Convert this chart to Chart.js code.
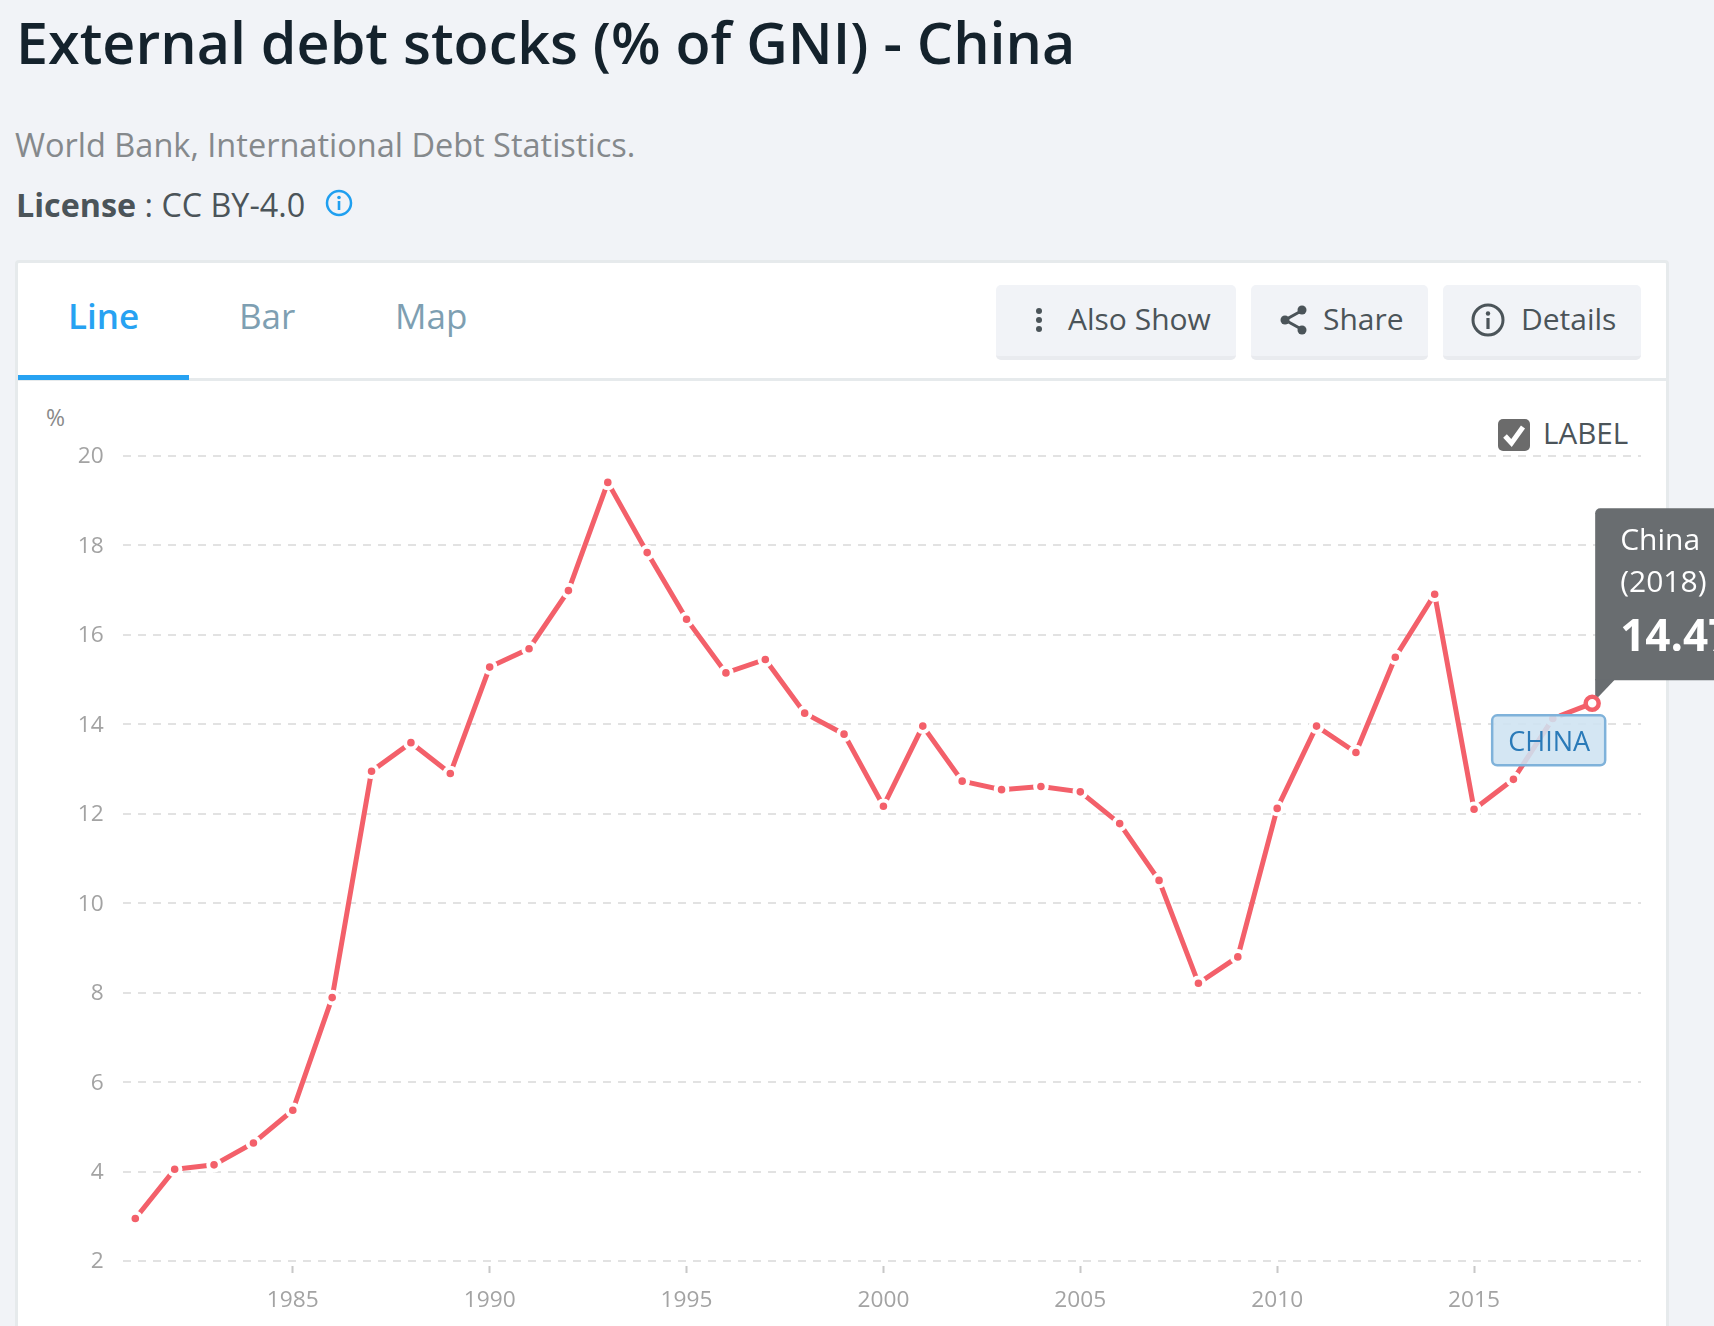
<!DOCTYPE html>
<html>
<head>
<meta charset="utf-8">
<title>External debt stocks (% of GNI) - China</title>
<script src="https://cdn.jsdelivr.net/npm/chart.js@4"></script>
<style>
  html, body { margin: 0; padding: 0; }
  body { width: 1714px; height: 1326px; overflow: hidden; position: relative; background: #f1f3f7; font-family: "Open Sans", sans-serif; }
  .abs { position: absolute; white-space: nowrap; }
  #title { left: 16px; top: 4px; font-size: 57.4px; line-height: 76px; font-weight: 600; color: #14222c; }
  #source { left: 15px; top: 122px; font-size: 32.5px; line-height: 46px; color: #85898c; }
  #license { left: 16px; top: 181px; font-size: 32.3px; line-height: 46px; color: #4b5459; }
  #license b { font-weight: 700; }
  #license-icon { left: 325px; top: 189px; }
  #card { left: 15px; top: 260px; width: 1648px; height: 1080px; background: #fff; border: 3px solid #e6eaec; border-radius: 4px; }
  #divider { left: 18px; top: 378px; width: 1648px; height: 3px; background: #e6eaec; }
  #tab-line { left: 18px; top: 375px; width: 171px; height: 5px; background: #27a2f2; }
  .tab { top: 292px; font-size: 35px; line-height: 48px; color: #7e9fb2; }
  .btn { top: 285px; height: 71px; background: #f1f3f7; border-bottom: 4px solid #e9ebef; border-radius: 5px; }
  .btn span { position: absolute; top: 13px; font-size: 30px; line-height: 42px; color: #4b5459; white-space: nowrap; }
  .btn svg { position: absolute; }
  #pct { left: 46px; top: 402px; font-size: 23px; line-height: 30px; color: #8a8a8a; }
  #check { left: 1498px; top: 419px; width: 32px; height: 32px; background: #6b6b6b; border-radius: 5px; }
  #label-text { left: 1543px; top: 413px; font-size: 29.6px; line-height: 40px; color: #4b5459; }
  #chart { position: absolute; left: 0; top: 0; }
</style>
</head>
<body>
<div class="abs" id="title">External debt stocks (% of GNI) - China</div>
<div class="abs" id="source">World Bank, International Debt Statistics.</div>
<div class="abs" id="license"><b>License</b> : CC BY-4.0</div>
<svg class="abs" id="license-icon" width="28" height="28" viewBox="0 0 28 28">
  <circle cx="14" cy="14" r="12" fill="none" stroke="#1f9ff0" stroke-width="2.5"/>
  <circle cx="14" cy="8.5" r="1.8" fill="#1f9ff0"/>
  <rect x="12.7" y="12" width="2.6" height="9" fill="#1f9ff0"/>
</svg>

<div class="abs" id="card"></div>
<div class="abs" id="divider"></div>
<div class="abs" id="tab-line"></div>
<div class="abs tab" style="left:68px;color:#27a2f2;font-weight:600">Line</div>
<div class="abs tab" style="left:239px">Bar</div>
<div class="abs tab" style="left:395px">Map</div>

<div class="abs btn" style="left:996px;width:240px">
  <svg style="left:39px;top:22px" width="8" height="26" viewBox="0 0 8 26">
    <circle cx="4" cy="4" r="3" fill="#4b5459"/><circle cx="4" cy="13" r="3" fill="#4b5459"/><circle cx="4" cy="22" r="3" fill="#4b5459"/>
  </svg>
  <span style="left:72px">Also Show</span>
</div>
<div class="abs btn" style="left:1251px;width:177px">
  <svg style="left:28px;top:20px" width="30" height="30" viewBox="0 0 30 30">
    <path d="M24 5 L6 15 L24 25" fill="none" stroke="#4b5459" stroke-width="3"/>
    <circle cx="23" cy="5" r="4.5" fill="#4b5459"/><circle cx="6" cy="15" r="4.5" fill="#4b5459"/><circle cx="23" cy="25" r="4.5" fill="#4b5459"/>
  </svg>
  <span style="left:72px">Share</span>
</div>
<div class="abs btn" style="left:1443px;width:198px">
  <svg style="left:28px;top:18px" width="34" height="34" viewBox="0 0 34 34">
    <circle cx="17" cy="17" r="15" fill="none" stroke="#4b5459" stroke-width="3"/>
    <circle cx="17" cy="10.5" r="2.2" fill="#4b5459"/>
    <rect x="15.4" y="15" width="3.2" height="11" fill="#4b5459"/>
  </svg>
  <span style="left:78px">Details</span>
</div>

<div class="abs" id="pct">%</div>
<div class="abs" id="check">
  <svg width="32" height="32" viewBox="0 0 32 32"><path d="M7 17 L13.5 24 L25 8" fill="none" stroke="#fff" stroke-width="5"/></svg>
</div>
<div class="abs" id="label-text">LABEL</div>

<canvas id="chart" width="1714" height="1326"></canvas>

<script>
var years = [1981, 1982, 1983, 1984, 1985, 1986, 1987, 1988, 1989, 1990,
  1991, 1992, 1993, 1994, 1995, 1996, 1997, 1998, 1999, 2000,
  2001, 2002, 2003, 2004, 2005, 2006, 2007, 2008, 2009, 2010,
  2011, 2012, 2013, 2014, 2015, 2016, 2017, 2018];
var debt_values = [2.95, 4.05, 4.15, 4.64, 5.37, 7.89, 12.95, 13.59, 12.9, 15.28,
  15.69, 16.99, 19.41, 17.84, 16.35, 15.15, 15.45, 14.25, 13.78, 12.17,
  13.96, 12.73, 12.54, 12.61, 12.49, 11.78, 10.51, 8.21, 8.8, 12.12,
  13.96, 13.37, 15.5, 16.91, 12.1, 12.77, 14.13, 14.47];
var x_ticks = [1985, 1990, 1995, 2000, 2005, 2010, 2015];
var series_name = 'China';
var tooltip_year = '(2018)';
var tooltip_value = '14.47';

var RED = '#f3606a';
var last_idx = years.length - 1;

function roundRect(ctx, x, y, w, h, r) {
  ctx.beginPath();
  ctx.roundRect(x, y, w, h, r);
}

//  Dark box above the last point, under the line
var tooltipBox = {
  id: 'tooltipBox',
  beforeDatasetsDraw: function(chart) {
    var ctx = chart.ctx,
        px  = chart.scales.x.getPixelForValue(years[last_idx]),
        py  = chart.scales.y.getPixelForValue(debt_values[last_idx]),
        left = px + 3,
        bottom = py - 23;

    ctx.save();
    ctx.fillStyle = '#696d70';
    roundRect(ctx, left, bottom - 172, 200, 172, [5, 0, 0, 0]);
    ctx.fill();
    ctx.beginPath();
    ctx.moveTo(left, bottom - 1);
    ctx.lineTo(left + 20, bottom - 1);
    ctx.lineTo(left, bottom + 20);
    ctx.closePath();
    ctx.fill();

    ctx.fillStyle = '#fff';
    ctx.textAlign = 'left';
    ctx.textBaseline = 'alphabetic';
    ctx.font = '30px "Open Sans"';
    ctx.fillText(series_name, left + 25, bottom - 130);
    ctx.fillText(tooltip_year, left + 25, bottom - 88);
    ctx.font = 'bold 44px "Open Sans"';
    ctx.fillText(tooltip_value, left + 25, bottom - 29);
    ctx.restore();
  }
};

//  Series label, sits on top of the line
var seriesLabel = {
  id: 'seriesLabel',
  afterDatasetsDraw: function(chart) {
    var ctx = chart.ctx,
        px  = chart.scales.x.getPixelForValue(years[last_idx]),
        py  = chart.scales.y.getPixelForValue(debt_values[last_idx]),
        left = px - 100,
        top  = py + 12;

    ctx.save();
    roundRect(ctx, left, top, 113, 50, 5);
    ctx.fillStyle = 'rgba(206, 226, 241, 0.88)';
    ctx.fill();
    ctx.lineWidth = 2.5;
    ctx.strokeStyle = '#7fb2da';
    ctx.stroke();
    ctx.fillStyle = '#2a7ab8';
    ctx.textAlign = 'center';
    ctx.textBaseline = 'alphabetic';
    ctx.font = '27px "Open Sans"';
    ctx.fillText(series_name.toUpperCase(), left + 57, top + 36);
    ctx.restore();
  }
};

var ctx = document.getElementById('chart').getContext('2d');

new Chart(ctx, {
  type: 'line',
  data: {
    datasets: [{
      label: series_name,
      data: years.map(function(y, i) { return {x: y, y: debt_values[i]}; }),
      borderColor: RED,
      borderWidth: 5,
      tension: 0,
      fill: false,
      clip: false,
      pointRadius: function(c) { return c.dataIndex === last_idx ? 6.5 : 5.8; },
      pointBorderWidth: function(c) { return c.dataIndex === last_idx ? 4.5 : 4; },
      pointBackgroundColor: function(c) { return c.dataIndex === last_idx ? '#fff' : RED; },
      pointBorderColor: function(c) { return c.dataIndex === last_idx ? RED : '#fff'; }
    }]
  },
  options: {
    responsive: false,
    animation: false,
    devicePixelRatio: 1,
    layout: { padding: { top: 456, right: 73, left: 0, bottom: 0 } },
    plugins: {
      legend: { display: false },
      tooltip: { enabled: false }
    },
    scales: {
      x: {
        type: 'linear',
        min: 1980.68,
        max: 2019.24,
        afterBuildTicks: function(scale) {
          scale.ticks = x_ticks.map(function(v) { return {value: v}; });
        },
        afterFit: function(scale) { scale.height = 65; },
        border: { display: false },
        grid: {
          drawOnChartArea: false,
          tickLength: 12,
          tickBorderDash: [0, 5, 7],
          tickColor: '#c8c8c8',
          tickWidth: 2
        },
        ticks: {
          autoSkip: false,
          maxRotation: 0,
          padding: 14,
          color: '#a3a3a3',
          font: { family: '"Open Sans"', size: 22.7 },
          callback: function(v) { return String(v); }
        }
      },
      y: {
        min: 2,
        max: 20,
        afterFit: function(scale) { scale.width = 122.7; },
        border: { display: false, dash: [8, 7] },
        grid: {
          color: '#e2e2e2',
          lineWidth: 2,
          drawTicks: false,
          tickLength: 0
        },
        ticks: {
          stepSize: 2,
          padding: 19,
          labelOffset: 1,
          color: '#a3a3a3',
          font: { family: '"Open Sans"', size: 22.7 }
        }
      }
    }
  },
  plugins: [tooltipBox, seriesLabel]
});
</script>
</body>
</html>
